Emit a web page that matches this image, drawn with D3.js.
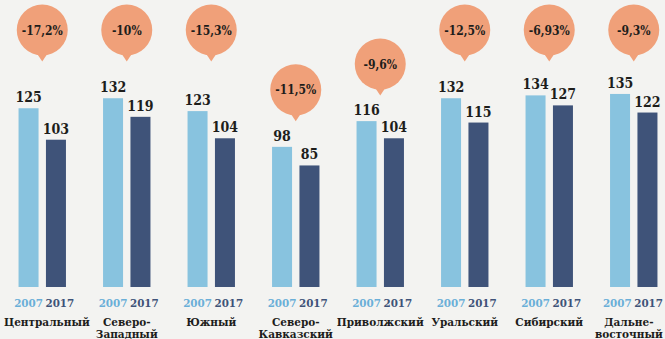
<!DOCTYPE html>
<html>
<head>
<meta charset="utf-8">
<script src="https://cdn.jsdelivr.net/npm/d3@7"></script>
<style>
  html, body { margin: 0; padding: 0; background: #f3f3f1; }
  svg { display: block; }
  text { font-family: "DejaVu Serif Condensed", "DejaVu Serif", serif; font-weight: bold; font-stretch: condensed; }
  text.name { font-family: "DejaVu Serif", serif; font-stretch: normal; }
</style>
</head>
<body>
<svg id="chart" width="665" height="339"></svg>
<script>
// Federal districts (line breaks marked with "\n")
const regions = [
  "Центральный",
  "Северо-\nЗападный",
  "Южный",
  "Северо-\nКавказский",
  "Приволжский",
  "Уральский",
  "Сибирский",
  "Дальне-\nвосточный"
];
const years = ["2007", "2017"];
const values2007 = [125, 132, 123, 98, 116, 132, 134, 135];
const values2017 = [103, 119, 104, 85, 104, 115, 127, 122];
const changeLabels = ["-17,2%", "-10%", "-15,3%", "-11,5%", "-9,6%", "-12,5%", "-6,93%", "-9,3%"];

const W = 665, H = 339;
const colors = { "2007": "#88c3df", "2017": "#3f5379" };
const yearText = { "2007": "#6aafd8", "2017": "#3f5379" };
const bubbleColor = "#f0a079";
const ink = "#1d1d1b";

const rows = regions.map((name, i) => ({
  name,
  change: changeLabels[i],
  vals: [
    { year: years[0], v: values2007[i] },
    { year: years[1], v: values2017[i] }
  ]
}));

const svg = d3.select("#chart");
svg.append("rect").attr("width", W).attr("height", H).attr("fill", "#f3f3f1");

const x = d3.scaleBand()
  .domain(regions)
  .range([0, 676])
  .paddingInner(0.439)
  .paddingOuter(0.2195);

const xs = d3.scaleBand()
  .domain(years)
  .range([0, x.bandwidth()])
  .paddingInner(0.27);

const y = d3.scaleLinear().domain([0, 200]).range([287, 1]);

const g = svg.selectAll("g.region")
  .data(rows)
  .join("g")
  .attr("class", "region")
  .attr("transform", d => `translate(${x(d.name)},0)`);

// bars
g.selectAll("rect.bar")
  .data(d => d.vals)
  .join("rect")
  .attr("class", "bar")
  .attr("x", d => xs(d.year))
  .attr("width", xs.bandwidth())
  .attr("y", d => y(d.v))
  .attr("height", d => y(0) - y(d.v))
  .attr("fill", d => colors[d.year]);

// value labels above bars
g.selectAll("text.val")
  .data(d => d.vals)
  .join("text")
  .attr("class", "val")
  .attr("x", d => xs(d.year) + xs.bandwidth() / 2)
  .attr("y", d => y(d.v) - 6)
  .attr("text-anchor", "middle")
  .attr("font-size", 14)
  .attr("fill", ink)
  .text(d => d.v);

// year labels under bars, grouped so a pair can be nudged together
const yearRow = g.append("g").attr("class", "years");
yearRow.selectAll("text")
  .data(d => d.vals)
  .join("text")
  .attr("x", d => d.year === years[0] ? xs(d.year) + xs.bandwidth() / 2 : xs(d.year) - 0.5)
  .attr("y", 306.5)
  .attr("text-anchor", d => d.year === years[0] ? "middle" : "start")
  .attr("font-size", 11.5)
  .attr("fill", d => yearText[d.year])
  .text(d => d.year);

// district names
g.append("text")
  .attr("class", "name")
  .attr("x", x.bandwidth() / 2)
  .attr("y", 326)
  .attr("text-anchor", "middle")
  .attr("font-size", 10.5)
  .attr("fill", ink)
  .selectAll("tspan")
  .data(d => d.name.split("\n"))
  .join("tspan")
  .attr("x", x.bandwidth() / 2)
  .attr("dy", (d, i) => i === 0 ? 0 : 11.5)
  .text(d => d);

// change bubbles: short pairs get the bubble lowered next to their bars
const R = 25.5;
const bubbleCy = d => {
  const top = d3.max(d.vals, v => v.v);
  return top < 120 ? y(top) - 57 : 30;
};
const bubble = g.append("g")
  .attr("transform", d => `translate(${x.bandwidth() / 2},${bubbleCy(d)})`);

bubble.append("path")
  .attr("d", `M${-6},${R - 3} L${6},${R - 3} L0,${R + 6} Z`)
  .attr("fill", bubbleColor);

bubble.append("circle")
  .attr("r", R)
  .attr("fill", bubbleColor);

bubble.append("text")
  .attr("text-anchor", "middle")
  .attr("y", 4.5)
  .attr("font-size", 12)
  .attr("fill", ink)
  .text(d => d.change);

// keep bottom labels inside the canvas edges
svg.selectAll("g.years, text.name").each(function (d) {
  const box = this.getBBox();
  const left = x(d.name) + box.x;
  const right = left + box.width;
  let shift = 0;
  if (right > W - 2) shift = (W - 2) - right;
  else if (left < 4) shift = 4 - left;
  if (shift) d3.select(this).attr("transform", `translate(${shift},0)`);
});
</script>
</body>
</html>
